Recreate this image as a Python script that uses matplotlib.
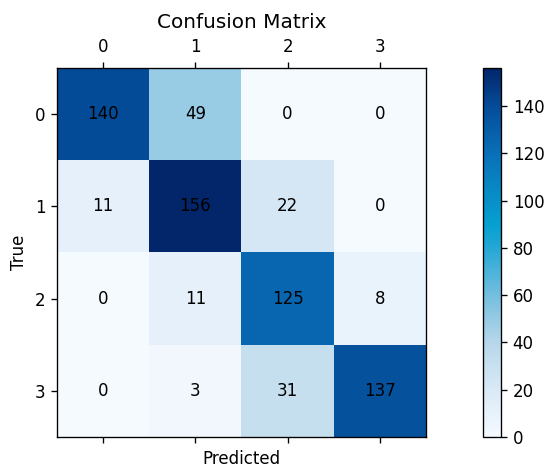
import numpy as np
import matplotlib
matplotlib.use("Agg")
import matplotlib.pyplot as plt
from matplotlib.colors import LinearSegmentedColormap

# Valores da matriz de confusão
labels = ["0", "1", "2", "3"]
row0 = [140, 49, 0, 0]
row1 = [11, 156, 22, 0]
row2 = [0, 11, 125, 8]
row3 = [0, 3, 31, 137]
cm = np.array([row0, row1, row2, row3])

# Paleta azul mais saturada (parecida com a da imagem)
vmax = cm.max()
cores = [
    (0 / vmax, "#f5faff"),
    (20 / vmax, "#d9e9f6"),
    (40 / vmax, "#b6d7ea"),
    (60 / vmax, "#74bede"),
    (80 / vmax, "#24a7d5"),
    (90 / vmax, "#05a0d0"),
    (100 / vmax, "#0890c8"),
    (120 / vmax, "#0870b8"),
    (140 / vmax, "#054c98"),
    (1.0, "#03266a"),
]
azul = LinearSegmentedColormap.from_list("azul", cores)

# Figura em 120 dpi (550x473 px)
fig = plt.figure(figsize=(550 / 120, 473 / 120), dpi=120)
ax = fig.add_axes([0.1036, 0.076, 0.671, 0.78])
im = ax.matshow(cm, cmap=azul, vmin=0, vmax=vmax)

for i in range(cm.shape[0]):
    for j in range(cm.shape[1]):
        ax.text(j, i, str(cm[i, j]), ha="center", va="center", color="black")

ax.set_xticks(range(len(labels)))
ax.set_yticks(range(len(labels)))
ax.set_xticklabels(labels)
ax.set_yticklabels(labels)
ax.set_xlabel("Predicted")
ax.set_ylabel("True")
ax.set_title("Confusion Matrix")

cax = fig.add_axes([0.878, 0.076, 0.033, 0.78])
fig.colorbar(im, cax=cax)

fig.savefig("out.png", dpi=120)
